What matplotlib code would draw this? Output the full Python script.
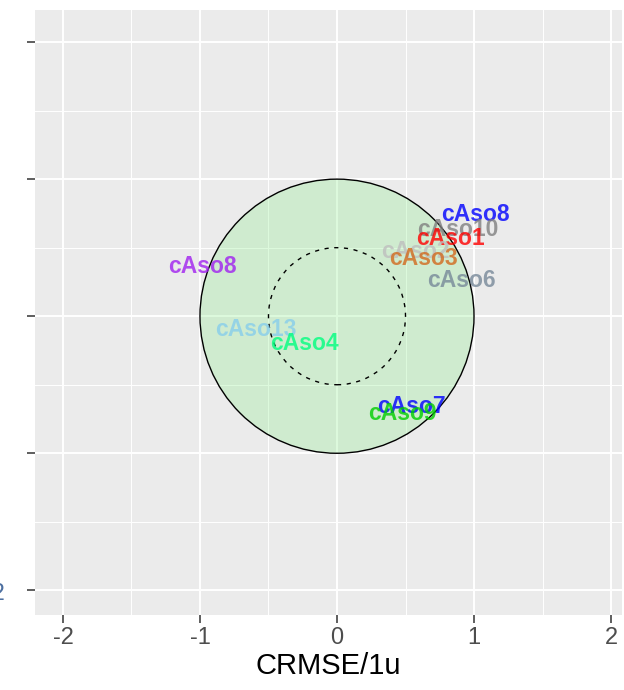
import matplotlib
matplotlib.use("Agg")
import matplotlib.pyplot as plt
from matplotlib.patches import Circle
import numpy as np

plt.rcParams['font.family'] = ['Liberation Sans', 'DejaVu Sans']
plt.rcParams['axes.unicode_minus'] = False

# data (CRMSE normalised, Bias normalised)
labels = ["cAso8", "cAso10", "cAso1", "cAso2", "cAso3", "cAso6",
          "cAso8", "cAso13", "cAso4", "cAso7", "cAso9"]
x_vals = [1.01, 0.88, 0.83, 0.57, 0.63, 0.91, -0.98, -0.59, -0.24, 0.54, 0.48]
y_vals = [0.74, 0.63, 0.57, 0.47, 0.42, 0.26, 0.36, -0.10, -0.20, -0.66, -0.71]
colors = ["#0000FF", "#808080", "#FF0000", "#BEBEBE", "#D2691E", "#778899",
          "#A020F0", "#87CEEB", "#00FF7F", "#0000FF", "#00CD00"]
x_ticks = [-2, -1, 0, 1, 2]
y_ticks = [-2, -1, 0, 1, 2]

fig = plt.figure(figsize=(6.24, 6.9), dpi=100)
ax = fig.add_axes([35/624, 75/690, (622-35)/624, (615-10)/690])
ax.set_facecolor("#EBEBEB")
ax.set_xlim(-2.204, 2.08)
ax.set_ylim(-2.18, 2.234)
ax.set_aspect('auto')

ax.set_xticks(x_ticks)
ax.set_yticks(y_ticks)
ax.set_xticks([-1.5, -0.5, 0.5, 1.5], minor=True)
ax.set_yticks([-1.5, -0.5, 0.5, 1.5], minor=True)
ax.grid(which='major', color='white', linewidth=1.4, zorder=0)
ax.grid(which='minor', color='white', linewidth=0.7, zorder=0)
ax.set_axisbelow(True)
for s in ax.spines.values():
    s.set_visible(False)
ax.tick_params(which='major', length=6, width=1.1, color='#333333',
               labelsize=17, labelcolor='#4D4D4D', pad=3)
ax.tick_params(which='minor', length=0)
ax.set_yticklabels([])
ax.set_xlabel("CRMSE/1u", fontsize=21, color='black', labelpad=2)

c1 = Circle((0, 0), 1.0, facecolor=(0.565, 0.933, 0.565, 0.3),
            edgecolor='black', linewidth=1.0, zorder=1)
ax.add_patch(c1)
c2 = Circle((0, 0), 0.5, facecolor='none', edgecolor='black',
            linewidth=1.0, linestyle=(0, (3, 4)), zorder=2)
ax.add_patch(c2)

for lab, xv, yv, col in zip(labels, x_vals, y_vals, colors):
    ax.text(xv, yv, lab, color=col, fontsize=16.5, fontweight='bold',
            ha='center', va='center', alpha=0.8, zorder=3)

# partially cropped y tick label at the far left
fig.text(5/624, 1 - 594/690, "-2", ha='right', va='center', fontsize=17,
         color='#4D6FA0')

fig.savefig("out.png", dpi=100)
